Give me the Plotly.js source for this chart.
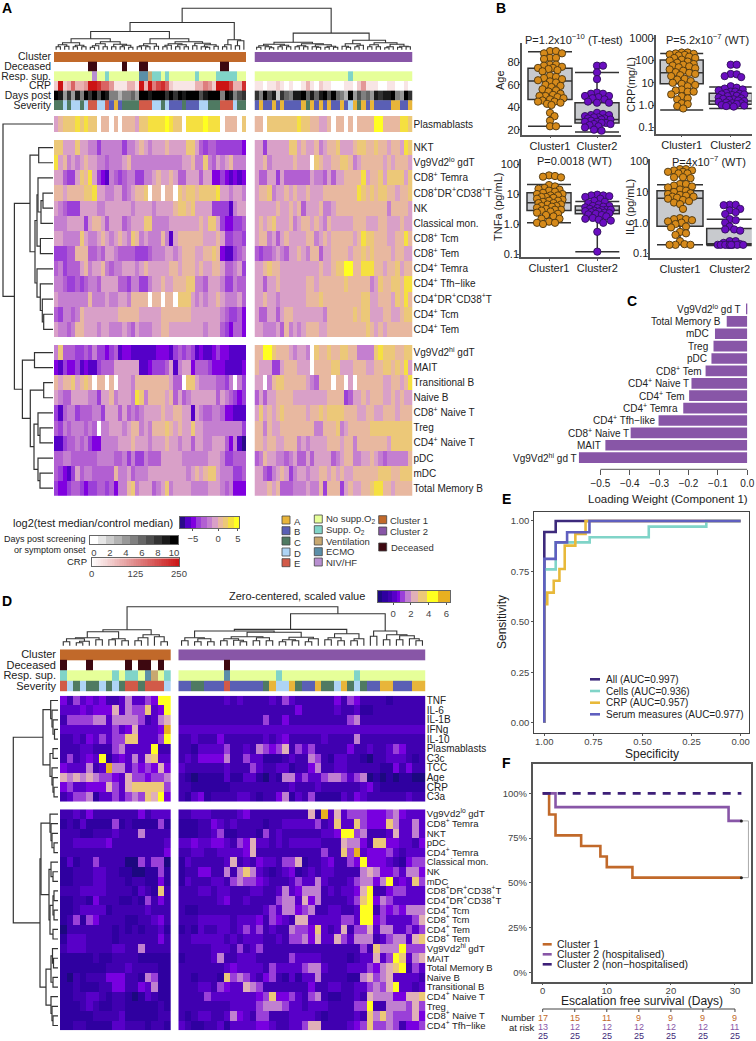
<!DOCTYPE html>
<html><head><meta charset="utf-8">
<script src="https://cdn.plot.ly/plotly-3.0.1.min.js"></script>
<style>html,body{margin:0;padding:0;background:#fff}#g{width:756px;height:1041px}</style>
</head><body><div id="g"></div>
<script>
/* ---------- DATA: panel A (levels 0-9,a of the colour key; . = missing) ---------- */
const aRowsTop = ["Plasmablasts"];
const aRowsMid = ["NKT","Vg9Vd2<sup>lo</sup> gdT","CD8<sup>+</sup> Temra","CD8<sup>+</sup>DR<sup>+</sup>CD38<sup>+</sup>T","NK","Classical mon.","CD8<sup>+</sup> Tcm","CD8<sup>+</sup> Tem","CD4<sup>+</sup> Temra","CD4<sup>+</sup> Tfh−like","CD4<sup>+</sup>DR<sup>+</sup>CD38<sup>+</sup>T","CD4<sup>+</sup> Tcm","CD4<sup>+</sup> Tem"];
const aRowsLow = ["Vg9Vd2<sup>hi</sup> gdT","MAIT","Transitional B","Naive B","CD8<sup>+</sup> Naive T","Treg","CD4<sup>+</sup> Naive T","pDC","mDC","Total Memory B"];
const aPlasmaL = ["67888 98988 .77.7 .7776 88999 9a988 .9999 a999. 777.8 8"];
const aPlasmaR = ["77.88 88888 98877 667.7 7.7.7 777aa 77779 98"];
const aMidL = [
"88666 86655 35555 53556 76566 67666 68864 34433 33332",
"96756 56766 55455 56755 55555 55555 66755 85465 67555",
"66433 68796 32154 34553 35567 66764 46664 66223 21212",
"77677 77889 66556 64567 78.77 .77.8 78878 88896 65665",
"65433 36666 55666 66656 66656 66678 87866 66333 31566",
"55566 66367 76466 64566 68855 55666 66667 68863 22334",
"66555 58655 67656 76587 56555 75167 77777 66676 33443",
"33344 77744 54665 44443 33455 56656 77766 77872 11345",
"45344 46756 67545 56665 67666 66776 77767 66776 44563",
"55433 43455 46666 44355 33566 76677 78855 46665 33544",
"65555 55575 55655 66577 77.77 .77.8 88656 56676 55564",
"43554 57666 66666 77777 66666 77777 77666 66665 43342",
"65545 77666 56655 56546 55566 77666 66666 56664 32442"];
const aMidR = [
"66366 66688 67667 56778 66678 87787 76776 98",
"66756 66667 666.8 76677 88756 77777 67677 76",
"64466 36444 44465 54646 67777 96778 68888 68",
"67785 66767 66766 67777 77779 87878 87767 78",
"66666 76676 74666 75567 77777 77777 75777 76",
"67678 66675 67767 65766 66677 76667 76667 66",
"67756 46766 66775 67677 77767 98877 76677 97",
"43445 65466 76577 46677 77677 87877 77677 66",
"66787 76666 66666 76678 8aa77 99977 67786 77",
"66466 76666 66776 77777 78777 77568 77887 99",
"66766 56666 66777 87777 77777 88667 77687 97",
"64466 46776 66666 65777 77787 88666 77667 88",
"66555 64756 56777 66777 77777 78767 67777 77"];
const aLowL = [
"58444 33435 33234 12211 11112 22134 34312 11232 21111",
"21322 31211 34446 66666 11233 34615 66244 43222 11112",
"76778 6787. 77.7. 66657 77777 77644 .8865 55544 35.53",
"65446 66655 36675 66659 85777 76746 45666 66646 54323",
"31455 34445 53666 46454 56666 76677 66165 44554 22111",
"43545 55454 .5566 65677 56577 78767 66866 55555 55553",
"11344 54532 25555 66676 66566 67665 66466 55666 42510",
"44554 44444 55554 45353 35444 66666 55555 56665 33444",
"43213 64554 44447 55645 55666 66666 65676 78865 55334",
"32234 43233 44342 55785 66645 68566 66555 56665 45222"];
const aLowR = [
"77aa8 77765 665.8 77877 88775 55589 88877 88",
"76663 36777 666.7 77788 66677 76677 88787 96",
"66.57 88777 77654 777.7 7.6.7 77777 66776 79",
"46466 77776 66666 66777 73466 76777 66767 66",
"68676 78777 77677 87888 87776 67766 77767 77",
"77576 67777 77775 57778 56777 77888 88888 88",
"77677 66777 56566 66777 67757 77777 76888 88",
"45766 55456 44646 66645 67755 66765 45555 57",
"66435 67635 66566 77676 76677 77778 88778 88",
"66676 74445 55655 73777 36766 77899 77677 77"];
const aDeceasedL = "..... ...xx ..... .x... xx... ..... ..... ....x x....";
const aDeceasedR = "..... ..... ..... ..... ..... ..... ..... ..";
const aRespL = "nnnnn nnnnh nnsnn nnnnn eevss nsnnn nnnsn nnnss sssnn";
const aRespR = "nnnnn nnnnn nnnnn nnnnn nnsnn nnnnn nnnnn nn";
const aCrpL = "29236 33499 86641 11331 93957 86211 11133 54299 97338";
const aCrpR = "11011 21010 01310 21100 01102 41110 01100 10";
const aDaysL = "a9484 95a8a 7a955 35564 aa9aa a8a8a 9aaa7 9aaa5 a9578";
const aDaysR = "85a79 28659 9a696 9a7a6 53a47 56498 99a54 a8";
const aSevL = "CCDCD DCDEE DDEBA BCCCC EEEDD CDBBB CBBBD DCCCE EEDCC";
const aSevR = "BABBA BABBB BACAB ABABB ABDAC ABABB BBAAB BA";

/* ---------- DATA: panel D ---------- */
const dRowsTop = ["TNF","IL-6","IL-1B","IFNg","IL-10","Plasmablasts","C3c","TCC","Age","CRP","C3a"];
const dRowsLow = ["Vg9Vd2<sup>lo</sup> gdT","CD8<sup>+</sup> Temra","NKT","pDC","CD4<sup>+</sup> Temra","Classical mon.","NK","mDC","CD8<sup>+</sup>DR<sup>+</sup>CD38<sup>+</sup>T","CD4<sup>+</sup>DR<sup>+</sup>CD38<sup>+</sup>T","CD4<sup>+</sup> Tcm","CD8<sup>+</sup> Tcm","CD4<sup>+</sup> Tem","CD8<sup>+</sup> Tem","Vg9Vd2<sup>hi</sup> gdT","MAIT","Total Memory B","Naive B","Transitional B","CD4<sup>+</sup> Naive T","Treg","CD8<sup>+</sup> Naive T","CD4<sup>+</sup> Tfh−like"];
const dTopL = [
"42534 34223 63354 99","33343 44473 65583 49","25555 66366 66523 67","33333 33353 47333 4a","22324 35355 88333 59",
"22233 22256 33339 22","25234 39134 36378 33","43336 23a66 35454 74","76767 65543 75545 56","45334 44753 78888 85","23556 13353 56587 94"];
const dTopR = [
"22222 22323 22223 25322 22224 25422 22122 222",
"22222 22222 22222 22242 22223 22311 22222 222",
"22222 22222 22252 24222 22222 25622 22222 222",
"33333 33333 33333 33333 33333 33333 33333 333",
"22322 24222 22232 34222 22322 22622 22222 222",
"22133 33522 32654 57253 52222 24223 22354 222",
"23244 44622 53311 12322 65213 32210 22333 212",
"32222 22322 25322 33122 46223 32222 21142 422",
"21011 11311 33102 16635 33566 53560 10101 100",
"22111 11122 22222 22322 23222 22234 21111 111",
"21341 22223 32122 46132 51111 32432 22222 322"];
const dLowL = [
"22324 22222 22423 33","12131 11151 21111 51","22211 22232 22622 22","22333 33422 22222 23","22222 22222 22222 24",
"13122 52222 00525 50","11222 33221 10011 51","11222 33222 12211 41","22233 33222 21321 82","11221 42221 12152 42",
"11233 33122 22232 22","12515 42222 11223 42","02222 22212 12122 31","13332 22212 22222 42","23332 22233 22622 22",
"11111 21122 22111 11","11111 11222 32222 11","10212 22444 22165 11","11211 12244 22436 11","11223 32122 10132 11",
"11123 21122 11111 21","11111 22223 11111 22","11221 11133 22212 21"];
const dLowR = [
"22333 22223 42222 22222 71a37 35554 44564 333",
"11122 43232 22212 23333 35238 33854 44863 363",
"11122 35112 22152 32222 22334 99562 22373 363",
"33433 44325 47332 32333 33222 76642 88443 324",
"22332 23333 47222 22222 22522 85a34 44532 333",
"13222 22372 32433 25571 22342 25494 44321 455",
"12244 22626 86321 23412 32332 22267 64453 664",
"13222 33256 55432 22353 36322 23566 46934 385",
"22233 23322 23322 36346 66232 33479 22455 333",
"22222 23422 32222 56637 46222 23589 46533 333",
"21122 22222 22235 36645 62233 22399 25454 666",
"22233 33323 33425 43277 33333 55399 45333 357",
"12132 23323 53523 22655 48323 72557 36633 535",
"22333 33232 33322 32556 47337 53666 23566 378",
"22222 33325 23522 22222 22222 22252 86669 555",
"12222 36223 33222 22533 33222 21233 73598 367",
"22222 22343 33325 33335 66322 23335 46789 253",
"22122 21856 53245 21313 36222 21167 56733 332",
"22233 25433 76522 22222 42233 22335 65793 323",
"22225 33333 33458 44532 56211 22327 66644 778",
"22222 22233 33566 65332 33322 22559 22666 575",
"21233 22364 32552 22333 32122 22328 68655 574",
"32112 23133 33443 22335 77222 23458 55652 445"];
const dDeceasedL = "x...x ..... x.xx. x.";
const dDeceasedR = "..... ..x.. ..... ..... ..... ..... ..... ...";
const dRespL = "snnnn nnnsn ssnev ns";
const dRespR = "nnnnn nnenn nnnnn snnnn nnnnn nnsnn nnnnn nnn";
const dSevL = "EDCDC CDCDC EECEE ED";
const dSevR = "BBCCB BBEBB BBBCA DDACB BACCD ACDCB BAABB BAA";

/* ---------- DATA: dendrograms [height, left, right]; 1 = a leaf ---------- */
const treeAColsLeft = [27.3,[18.3,
  [11,[7,[5,[3,1,1],[3.5,1,1]],[4.5,[3,1,1],[3,1,1]]],[8,[6,[4,[2.5,1,1],1],[3,1,1]],[5.5,[3,1,1],[4.5,[3,1,1],[2.5,1,1]]]]],
  [11,[6,[4,[3,1,1],[3,1,1]],[3.5,1,1]],[8,[6,[4.5,[3,1,1],1],[5,[3,1,1],[3,1,1]]],[6.5,[4,1,1],[5,[3,1,[2.5,1,1]],[3.5,1,1]]]]]],
  [10,[5,[3,1,1],1],[9,[4,1,1],1]]];
const treeAColsRight = [16.7,
  [7.5,[5.5,[4,[2.5,1,1],[3,1,[2,1,1]]],[4.5,[3,1,1],[3,1,1]]],[6,[4,[3,1,1],[3,1,1]],[5,[3,1,[2.5,1,1]],[3.5,[2.5,1,1],[2.5,1,1]]]]],
  [9.5,[6,[3.5,1,[2.5,1,1]],[4.5,[3,1,1],1]],[7,[5,[3,1,1],[3,1,1]],[5.5,[3,[2,1,1],1],[3.5,[2.5,1,1],[3,1,1]]]]]];
const treeARootHeight = 41.5;
const treeARows = [50,1,[38.6,
  [23,[14.3,1,1],[18,[16,[15,1,[12,[10,1,1],1]],[12.6,1,1]],[16,1,[12.7,1,[10.7,1,[9.3,1,1]]]]]],
  [30.6,[18.5,1,1],[22.7,[9.3,1,1],[19,[15,1,[13,1,1]],[15,1,[13,1,1]]]]]]];
const treeDColsLeft = [16,[14,[8,[7,[4,1,1],[4.5,[3,1,1],1]],[6,1,1]],[7,[6,1,1],[5,1,1]]],[11,[8,[5,1,1],1],[9,1,[4,1,1]]]];
const treeDColsRight = [32,
  [16.3,[14.7,[8,[5,1,1],[7,[4,1,1],[4,1,1]]],[13.5,[9,[7,[5,1,1],[5.5,1,[4,1,1]]],[8,[5,1,1],[5,1,1]]],[8.5,[6,[4,1,1],[5,1,1]],[7,[4,1,1],1]]]],[12,[8,[6,1,1],[5,1,1]],[7,[5,1,1],1]]],
  [14.7,[9.5,1,1],[11,[6,1,1],[10,[6,1,1],[7,1,[5,1,1]]]]]];
const treeDRootHeight = 39;
const treeDRows = [44.7,
  [15,[7.3,1,[6,1,[5,1,[3.5,1,1]]]],[8,[5,1,1],[6,1,[5,1,[4,1,1]]]]],
  [18,[17,[8,1,[7,1,[6,1,[4,1,1]]]],[9,[7,1,[5,1,1]],[8,[5,[4,1,1],[4,1,1]],[5,1,1]]]],[12,[7,[5.5,1,[4.5,1,1]],[5,1,1]],[7,1,[6,1,[5,1,1]]]]]];

/* ---------- DATA: panel B ---------- */
const ageC1 = [90,90,88,88,84,84,83,78,78,77,76,75,75,74,73,72,68,67,66,65,64,63,62,60,59,58,56,55,54,52,51,50,50,49,48,47,46,45,45,44,43,42,35,32,28,23,23];
const ageC2 = [77,77,71,65,53,52,52,50,50,49,48,47,45,44,44,35,34,33,33,32,31,31,30,30,29,29,28,27,27,26,26,25,25,24,23,22,20,19];
const crpC1 = [230,230,210,200,190,180,170,150,130,130,110,100,90,80,70,65,60,55,50,45,40,35,30,28,25,22,20,15,14,12,10,9,8,7,5,4.5,4,4,3,2.5,2,1.8,1.2,1.1,0.9,0.7];
const crpC2 = [65,65,25,24,20,18,7,6,5.5,5,4.5,4,4,3.5,3.2,3,3,2.8,2.6,2.5,2.2,2,1.9,1.8,1.7,1.6,1.5,1.4,1.3,1.2,1.2,1.1,1,1,0.95,0.9,0.85];
const tnfC1 = [42,40,38,36,20,18,16,15,14,13,12,11,10,10,9,9,8,8,7.5,7,6.5,6,6,5.5,5,5,4.5,4.5,4,4,3.8,3.5,3.2,3,3,2.8,2.6,2.4,2.2,2,1.8,1.5,1.5,1.2,1.1,1.1,1];
const tnfC2 = [9.5,9,9,8.5,8,7,6,5.5,5,4.5,4,4,3.8,3.6,3.4,3.2,3,3,2.9,2.8,2.7,2.6,2.5,2.4,2.3,2.2,2.1,2,1.8,1.6,1.5,1.4,1.3,1.1,0.55,0.12];
const il6C1 = [55,55,50,50,45,45,40,40,30,30,28,18,18,16,15,14,12,11,10,9,8.5,8,7.5,7,7,6.5,6,5.5,5,4.5,4,2.8,1.4,1.3,1.3,1.2,1.1,1,0.9,0.75,0.7,0.5,0.45,0.4,0.25,0.2,0.19,0.19,0.19];
const il6C2 = [3.8,3.8,3.7,2.8,2.5,2.2,1.9,1.3,1.2,1,0.75,0.6,0.6,0.55,0.25,0.25,0.22,0.2,0.19,0.19,0.19,0.19,0.19,0.19,0.19,0.19,0.19];
const boxCategories = ["Cluster1","Cluster2"];
const ageBox = {lo:[23,18],q1:[46.9,26],med:[63.3,29],q3:[74.6,44],hi:[89.5,71]};
const crpBox = {lo:[0.6,0.7],q1:[9,1.07],med:[28,1.5],q3:[105,3.4],hi:[206,6.4]};
const tnfBox = {lo:[1.1,0.12],q1:[2.85,2.2],med:[5.1,2.9],q3:[11,4],hi:[21,5.6]};
const il6Box = {lo:[0.19,0.18],q1:[0.77,0.19],med:[6.2,0.2],q3:[11,0.64],hi:[17,1.3]};

/* ---------- DATA: panel C ---------- */
const loadNames = ["Vg9Vd2<sup>lo</sup> gd T","Total Memory B","mDC","Treg","pDC","CD8<sup>+</sup> Tem","CD4<sup>+</sup> Naive T","CD4<sup>+</sup> Tem","CD4<sup>+</sup> Temra","CD4<sup>+</sup> Tfh−like","CD8<sup>+</sup> Naive T","MAIT","Vg9Vd2<sup>hi</sup> gd T"];
const loadVals = [-0.003,-0.07,-0.11,-0.115,-0.122,-0.142,-0.19,-0.198,-0.218,-0.302,-0.397,-0.483,-0.573];
const labelGaps = [4.7,4.7,5,4.3,3.7,2.3,1,3.3,4.7,3,0.7,3.7,0.7];

/* ---------- DATA: panel E ---------- */
const rocAllX = [1,1,0.942,0.942,0];       const rocAllY = [0,0.945,0.945,1,1];
const rocCellsX = [1,1,0.942,0.942,0.769,0.769,0.468,0.468,0.175,0.175,0];
const rocCellsY = [0,0.76,0.76,0.894,0.894,0.919,0.919,0.972,0.972,1,1];
const rocCrpX = [1,1,0.985,0.985,0.952,0.952,0.923,0.923,0.896,0.896,0.842,0.842,0.79,0.79,0];
const rocCrpY = [0,0.588,0.588,0.645,0.645,0.704,0.704,0.762,0.762,0.878,0.878,0.936,0.936,1,1];
const rocSerumX = [1,1,0.942,0.942,0.884,0.884,0.77,0.77,0];
const rocSerumY = [0,0.812,0.812,0.894,0.894,0.944,0.944,1,1];
const rocLabels = ["All (AUC=0.997)","Cells (AUC=0.936)","CRP (AUC=0.957)","Serum measures (AUC=0.977)"];

/* ---------- DATA: panel F ---------- */
const kmC1X = [0,1,2,6,9,10,14,31];        const kmC1Y = [100,88.2,76.5,70.6,64.7,58.8,52.9,52.9];
const kmC2X = [0,2,29,31];                 const kmC2Y = [100,92.3,84.6,84.6];
const kmC3X = [0,31];                      const kmC3Y = [100,100];
const kmLabels = ["Cluster 1","Cluster 2 (hospitalised)","Cluster 2 (non−hospitalised)"];
const riskDays = [0,5,10,15,20,25,30];
const riskC1 = [17,15,11,9,9,9,9];
const riskC2 = [13,12,12,12,12,12,11];
const riskC3 = [25,25,25,25,25,25,25];

/* ---------- DATA: legends ---------- */
const severityNames = ["A","B","C","D","E"];
const respNames = ["No supp.O<sub>2</sub>","Supp. O<sub>2</sub>","Ventilation","ECMO","NIV/HF"];
const keyDays = [0,1,2,3,4,5,6,7,8,9,10];
const keyCrp = Array.from({length:51},(_,i)=>i*5);
const keyLog = [0,1,2,3,4,5,6,7,8,9,10];
const keyScaledEdges = [-1.7,-1.2,-0.6,-0.1,0.4,0.8,1.3,2.0,2.8,3.8,5,6.4];

/* ---------- styles ---------- */
const W=756,H=1041;
const COL={c1:"#c1692a",c2:"#8856a7",dec:"#3d0810",txt:"#222",axis:"#555",dark:"#3d2a7c",teal:"#80d4c8",gold:"#e8b93a",blue:"#5f5fbf"};
const sevColors=["#e8b53a","#5a5fb5","#4f7a62","#aed4f5","#d25a48"];
const respColors=["#e6ff99","#80d4c8","#c8a870","#5b8fa8","#b88fd0"];
const pal=a=>a.map((c,i)=>[i/(a.length-1),c]);
const csA=pal(["#2a0a8a","#5500c8","#8000e0","#9b3fd8","#b25fd2","#c47fd0","#d9a0c8","#e8b8a0","#ecc878","#f5e040","#ffff20"]);
const csD=pal(["#1c0880","#2f00a0","#4000b0","#5800c8","#7800e0","#9a40d8","#c080d0","#e0b0b8","#ecc878","#ffff20","#e8b020"]);
const csGrey=[[0,"#ffffff"],[1,"#000000"]];
const csRed=[[0,"#ffffff"],[0.5,"#e08a8a"],[1,"#cc1414"]];
const FONT="'Liberation Sans',Arial,sans-serif";

/* ---------- helpers ---------- */
const traces=[],annotations=[],shapes=[],layout={};
let axN=0;
function axes(x0,x1,y0,y1,xo,yo){
  axN++;const s=axN===1?"":axN;
  layout["xaxis"+s]=Object.assign({domain:[x0/W,x1/W],anchor:"y"+s,showgrid:false,zeroline:false,fixedrange:true,visible:false},xo||{});
  layout["yaxis"+s]=Object.assign({domain:[1-y1/H,1-y0/H],anchor:"x"+s,showgrid:false,zeroline:false,fixedrange:true,visible:false},yo||{});
  return {xaxis:"x"+s,yaxis:"y"+s};
}
const parse=s=>s.replace(/ /g,"").split("");
const levels=s=>parse(s).map(c=>c==="."?null:parseInt(c,36));
function fit(a,n){const b=a.slice(0,n);while(b.length<n)b.push(b[b.length-1]);return b;}
function T(text,x,y,o){o=o||{};annotations.push({text,x:x/W,y:1-y/H,xref:"paper",yref:"paper",showarrow:false,
  xanchor:o.anchor||"left",yanchor:"middle",textangle:o.angle||0,borderpad:0,
  font:{family:FONT,size:o.size||10,color:o.color||COL.txt,weight:o.bold?700:400}});}
function heat(rows,n,x0,x1,y0,y1,cs,labels,labelSide,fs){
  const yo={range:[rows.length-0.5,-0.5]};
  if(labels){Object.assign(yo,{visible:true,side:labelSide,tickmode:"array",tickvals:labels.map((_,i)=>i),ticktext:labels,ticks:"",showline:false,
     tickfont:{family:FONT,size:fs||10,color:COL.txt}});}
  const a=axes(x0,x1,y0,y1,{range:[-0.5,n-0.5]},yo);
  traces.push(Object.assign({type:"heatmap",z:rows.map(r=>fit(levels(r),n)),colorscale:cs,zmin:0,zmax:10,showscale:false,hoverinfo:"skip",xgap:0,ygap:0},a));
}
function tracks(defs,n,x0,x1,y0,y1,labels,standoff,fs){
  const yo={range:[defs.length-0.5,-0.5]};
  if(labels){Object.assign(yo,{visible:true,side:"left",tickmode:"array",tickvals:labels.map((_,i)=>i),ticktext:labels,ticks:"",showline:false,ticklabelstandoff:standoff||0,tickfont:{family:FONT,size:fs||11,color:COL.txt}});}
  const a=axes(x0,x1,y0,y1,{range:[-0.5,n-0.5]},yo);
  defs.forEach((d,i)=>{
    traces.push(Object.assign({type:"heatmap",z:[fit(d.z,n)],y:[i-0.5,i+0.5],colorscale:d.cs,zmin:d.min,zmax:d.max,showscale:false,hoverinfo:"skip"},a));
  });
}
const cat=(s,keys)=>parse(s).map(c=>keys.indexOf(c));
const solid=(c)=>[[0,c],[1,c]];
const decZ=s=>parse(s).map(c=>c==="x"?1:null);
const sev=s=>({z:cat(s,"ABCDE"),cs:pal(sevColors),min:0,max:4});
const resp=s=>({z:cat(s,"nsveh"),cs:pal(respColors),min:0,max:4});
const deceased=s=>({z:decZ(s),cs:solid(COL.dec),min:0,max:1});
const clusterTrack=(c,n)=>({z:Array(n).fill(1),cs:solid(c),min:0,max:1});

const page=axes(0,W,0,H,{range:[0,W]},{range:[H,0]});
function dendro(tree,pos,horizontal,base,color,width){
  let i=0;const xs=[],ys=[];
  const put=(p,h)=>{if(horizontal){xs.push(p);ys.push(base-h);}else{xs.push(base-h);ys.push(p);}};
  function walk(n){
    if(n===1)return {p:pos[i++],h:0};
    const a=walk(n[1]),b=walk(n[2]);
    put(a.p,a.h);put(a.p,n[0]);put(b.p,n[0]);put(b.p,b.h);xs.push(null);ys.push(null);
    return {p:(a.p+b.p)/2,h:n[0]};
  }
  walk(tree);
  traces.push(Object.assign({type:"scatter",mode:"lines",x:xs,y:ys,line:{color:color||"#333",width:width||1},hoverinfo:"skip",showlegend:false},page));
}
const centers=(a,b,n)=>Array.from({length:n},(_,i)=>a+(b-a)*(i+0.5)/n);

/* ---------- Panel A ---------- */
const AL=[54,246],AR=[254.5,412.5],nAL=45,nAR=37;
tracks([clusterTrack(COL.c1,nAL),deceased(aDeceasedL),resp(aRespL),
  {z:levels(aCrpL),cs:csRed,min:0,max:9},{z:levels(aDaysL),cs:csGrey,min:0,max:10},sev(aSevL)],
  nAL,AL[0],AL[1],52,110,["Cluster","Deceased","Resp. sup.","CRP","Days post","Severity"],2,10.4);
tracks([clusterTrack(COL.c2,nAR),deceased(aDeceasedR),resp(aRespR),
  {z:levels(aCrpR),cs:csRed,min:0,max:9},{z:levels(aDaysR),cs:csGrey,min:0,max:10},sev(aSevR)],
  nAR,AR[0],AR[1],52,110);
heat(aPlasmaL,nAL,AL[0],AL[1],116,132,csA);
heat(aPlasmaR,nAR,AR[0],AR[1],116,132,csA,aRowsTop,"right");
heat(aMidL,nAL,AL[0],AL[1],140,337,csA);
heat(aMidR,nAR,AR[0],AR[1],140,337,csA,aRowsMid,"right");
heat(aLowL,nAL,AL[0],AL[1],345,495.7,csA);
heat(aLowR,nAR,AR[0],AR[1],345,495.7,csA,aRowsLow,"right");
{ // column tree
  const leaves=centers(AL[0],AL[1],nAL).concat(centers(AR[0],AR[1],nAR));
  dendro([treeARootHeight,treeAColsLeft,treeAColsRight],leaves,true,49.8,"#333",1.1);
  const rows=[124].concat(centers(140,337,13),centers(345,495.7,10));
  dendro(treeARows,rows,false,53,"#333",1.2);
}
T("log2(test median/control median)",93,522.7,{anchor:"center",size:11});
const keyAxis=(extra)=>Object.assign({visible:true,ticks:"",tickfont:{family:FONT,size:9.5,color:"#444"},showline:true,linecolor:"#666",mirror:true,tickmode:"array"},extra);
const keyY=()=>({visible:true,showticklabels:false,ticks:"",showline:true,linecolor:"#666",mirror:true,range:[-0.5,0.5]});
const kA=axes(180,239,517,528,keyAxis({range:[-0.5,10.5],tickvals:[1.9,6.6,10.3],ticktext:["−5","0","5"],ticks:"outside",ticklen:2,tickcolor:COL.axis}),keyY());
traces.push(Object.assign({type:"heatmap",z:[keyLog],x:keyLog,colorscale:csA,zmin:0,zmax:10,showscale:false,hoverinfo:"skip"},kA));
T("Days post screening",87,539,{anchor:"right",size:9});
T("or symptom onset",87,550,{anchor:"right",size:9});
const kD=axes(90,178,536,544.3,keyAxis({range:[-0.5,10.5],tickvals:[0,2,4,6,8,10],ticklabelstandoff:-1}),keyY());
traces.push(Object.assign({type:"heatmap",z:[keyDays],x:keyDays,colorscale:csGrey,zmin:0,zmax:10,showscale:false,hoverinfo:"skip"},kD));
T("CRP",88,561.7,{anchor:"right",size:9.5});
const kC=axes(91.7,179,558.3,566,keyAxis({range:[0,250],tickvals:[0,125,250],ticklabelstandoff:-1}),keyY());
traces.push(Object.assign({type:"heatmap",z:[keyCrp],x:keyCrp,colorscale:csRed,zmin:0,zmax:250,showscale:false,hoverinfo:"skip"},kC));
function swatch(x,y,c){shapes.push({type:"rect",xref:"paper",yref:"paper",x0:x/W,x1:(x+8)/W,y0:1-(y+4)/H,y1:1-(y-4)/H,fillcolor:c,line:{color:"#444",width:0.8}});}
[520,530.7,541,552,562.7].forEach((y,i)=>{swatch(282,y,sevColors[i]);T(severityNames[i],293.3,y+1,{size:9.5,color:"#333"});});
[519,529.7,541,551.7,562].forEach((y,i)=>{swatch(314.3,y,respColors[i]);T(respNames[i],324.7,y,{size:9.5,color:"#333"});});
swatch(378.7,519.7,COL.c1);T("Cluster 1",389,520,{size:9.5,color:"#333"});
swatch(378.7,531,COL.c2);T("Cluster 2",389,531,{size:9.5,color:"#333"});
swatch(378.7,547,COL.dec);T("Deceased",390,547.5,{size:9.5,color:"#333"});

/* ---------- Panel B ---------- */
function swarmX(vals,toPx,d,maxW){
  const placed=[];
  return vals.map(v=>{
    const py=toPx(v);let best=0,bestD=-1;
    for(let k=0;k*1.5<=maxW*2;k++){
      const c=(k%2?1:-1)*Math.ceil(k/2)*1.5;
      const m=placed.reduce((q,p)=>Math.min(q,Math.hypot(p[0]-c,p[1]-py)),1e9);
      if(m>=d){best=c;bestD=m;break;}
      if(m>bestD){bestD=m;best=c;}
    }
    placed.push([best,py]);return best;
  });
}
function boxPanel(o){
  const u=o.c2-o.c1;
  const xr=[(o.x0-o.c1)/u,(o.x1-o.c1)/u];
  const ya={visible:true,range:o.yr,showline:true,linecolor:COL.axis,linewidth:1.5,ticks:"outside",ticklen:2,tickcolor:COL.axis,ticklabelstandoff:-4,tickmode:"array",tickvals:o.tv,ticktext:o.tt,tickfont:{family:FONT,size:11,color:COL.txt},type:o.log?"log":"linear"};
  const a=axes(o.x0,o.x1,o.y0,o.y1,{visible:true,range:xr,showline:true,linecolor:COL.axis,linewidth:1.5,ticks:"outside",ticklen:2,tickcolor:COL.axis,ticklabelstandoff:-2,tickmode:"array",tickvals:[0,1],ticktext:boxCategories,tickfont:{family:FONT,size:11,color:COL.txt}},ya);
  const b=o.box;
  traces.push(Object.assign({type:"box",x:[0,1],q1:b.q1,median:b.med,q3:b.q3,lowerfence:b.lo,upperfence:b.hi,boxpoints:false,whiskerwidth:1,width:o.bw/u,fillcolor:"#c8cace",line:{color:"#333",width:1.5},hoverinfo:"skip",showlegend:false},a));
  const toPx=v=>{const t=o.log?Math.log10(v):v;return o.y0+(o.yr[1]-t)/(o.yr[1]-o.yr[0])*(o.y1-o.y0);};
  const mk=(vals,i,c,l)=>{
    const off=swarmX(vals,toPx,5.2,13);
    traces.push(Object.assign({type:"scatter",mode:"markers",x:off.map(d=>i+d/u),y:vals,marker:{size:7.3,color:c,line:{color:l,width:0.9}},hoverinfo:"skip",showlegend:false},a));
  };
  mk(o.a,0,"#d68a1a","#4a3410");mk(o.b,1,"#6a0dc0","#30105a");
  T(o.title,o.tx,o.ty,{anchor:"center",size:11});
  T(o.yt,o.ytx,o.yty,{anchor:"center",size:11,angle:-90});
}
boxPanel({x0:521.7,x1:621,y0:43,y1:134.7,c1:550,c2:597,bw:44,yr:[15.5,97.2],tv:[20,40,60,80],tt:["20","40","60","80"],box:ageBox,a:ageC1,b:ageC2,title:"P=1.2x10<sup>−10</sup> (T-test)",tx:574,ty:39,yt:"Age",ytx:500,yty:80});
boxPanel({x0:655.7,x1:751.7,y0:35,y1:133.7,c1:681.7,c2:730.7,bw:43,log:true,yr:[-1.29,3.15],tv:[0.1,1,10,100,1000],tt:["0.1","1.0","10","100","1000"],box:crpBox,a:crpC1,b:crpC2,title:"P=5.2x10<sup>−7</sup> (WT)",tx:707.7,ty:39,yt:"CRP(mg/L)",ytx:631,yty:85});
boxPanel({x0:521,x1:620,y0:159,y1:257.3,c1:549,c2:597.3,bw:44,log:true,yr:[-1.11,2.17],tv:[0.1,1,10,100],tt:["0.1","1.0","10","100"],box:tnfBox,a:tnfC1,b:tnfC2,title:"P=0.0018 (WT)",tx:574,ty:161,yt:"TNFa (pg/mL)",ytx:498,yty:207});
boxPanel({x0:650.3,x1:751.7,y0:159,y1:257.7,c1:680,c2:729.7,bw:46,log:true,yr:[-1.14,2.07],tv:[0.1,1,10,100],tt:["0.1","1.0","10","100"],box:il6Box,a:il6C1,b:il6C2,title:"P=4x10<sup>−7</sup> (WT)",tx:709,ty:161,yt:"IL6 (pg/mL)",ytx:630,yty:207});

/* ---------- Panel C ---------- */
const cA=axes(576,747.3,297.3,469.3,{visible:true,range:[-0.583,0],tickmode:"array",tickvals:[-0.5,-0.4,-0.3,-0.2,-0.1,0],ticktext:["−0.5","−0.4","−0.3","−0.2","−0.1","0.0"],ticks:"outside",ticklen:5,tickcolor:COL.axis,showline:false,tickfont:{family:FONT,size:10,color:COL.txt}},{range:[12.94,-0.94]});
traces.push(Object.assign({type:"bar",orientation:"h",x:loadVals,y:loadNames.map((_,i)=>i),width:0.86,marker:{color:COL.c2},hoverinfo:"skip",showlegend:false},cA));
loadNames.forEach((n,i)=>annotations.push({text:n,x:loadVals[i],y:i,xref:cA.xaxis,yref:cA.yaxis,xanchor:"right",yanchor:"middle",xshift:-labelGaps[i],showarrow:false,borderpad:0,font:{family:FONT,size:10,color:COL.txt}}));
shapes.push({type:"line",xref:cA.xaxis,yref:"paper",x0:-0.5,x1:0,y0:1-469.3/H,y1:1-469.3/H,line:{color:COL.axis,width:1}});
T("Loading Weight (Component 1)",668,499,{anchor:"center",size:11.5});

/* ---------- Panel E ---------- */
const eA=axes(534.3,749.3,511.7,733.3,
  {visible:true,range:[1.051,-0.044],tickmode:"array",tickvals:[1,0.75,0.5,0.25,0],ticktext:["1.00","0.75","0.50","0.25","0.00"],ticks:"outside",ticklen:2,ticklabelstandoff:-3,tickcolor:COL.axis,showline:true,mirror:true,linecolor:"#444",linewidth:1.2,tickfont:{family:FONT,size:9.5,color:"#444"}},
  {visible:true,range:[-0.0526,1.046],tickmode:"array",tickvals:[0,0.25,0.5,0.75,1],ticktext:["0.00","0.25","0.50","0.75","1.00"],ticks:"outside",ticklen:2,tickcolor:COL.axis,showline:true,mirror:true,linecolor:"#444",linewidth:1.2,tickfont:{family:FONT,size:9.5,color:"#444"}});
const rocColors=[COL.dark,COL.teal,COL.gold,COL.blue];
[[rocAllX,rocAllY],[rocCellsX,rocCellsY],[rocCrpX,rocCrpY],[rocSerumX,rocSerumY]].forEach((s,i)=>{
  traces.push(Object.assign({type:"scatter",mode:"lines",x:s[0],y:s[1],name:rocLabels[i],line:{color:rocColors[i],width:2.6},hoverinfo:"skip",showlegend:false},eA));
});
[679.3,691,702.7,714.3].forEach((y,i)=>{
  shapes.push({type:"line",xref:"paper",yref:"paper",x0:590/W,x1:600/W,y0:1-y/H,y1:1-y/H,line:{color:rocColors[i],width:2.6}});
  T(rocLabels[i],605,y,{size:10,color:"#222"});
});
T("Specificity",652,754,{anchor:"center",size:12});
T("Sensitivity",502,622,{anchor:"center",size:12,angle:-90});

/* ---------- Panel F ---------- */
const fA=axes(532.7,751,764,981.7,
  {visible:true,range:[-1.56,32.5],tickmode:"array",tickvals:[0,10,20,30],ticks:"outside",ticklen:2,ticklabelstandoff:-3,tickcolor:COL.axis,showline:true,mirror:true,linecolor:"#555",linewidth:1.5,tickfont:{family:FONT,size:9.5,color:"#444"}},
  {visible:true,range:[-5.25,116.4],tickmode:"array",tickvals:[0,25,50,75,100],ticktext:["0%","25%","50%","75%","100%"],ticks:"outside",ticklen:2,tickcolor:COL.axis,showline:true,mirror:true,linecolor:"#555",linewidth:1.5,tickfont:{family:FONT,size:9.5,color:"#444"}});
const kmColors=[COL.c1,COL.c2,"#3d1f78"];
traces.push(Object.assign({type:"scatter",mode:"lines",x:[31,32.1,32.1,31],y:[kmC2Y[3],kmC2Y[3],kmC1Y[7],kmC1Y[7]],line:{color:"#aaa",width:1},hoverinfo:"skip",showlegend:false},fA));
[[kmC1X,kmC1Y,"solid"],[kmC2X,kmC2Y,"solid"],[kmC3X,kmC3Y,"8px,7px"]].forEach((s,i)=>{
  traces.push(Object.assign({type:"scatter",mode:"lines",x:s[0],y:s[1],name:kmLabels[i],line:{color:kmColors[i],width:2.6,shape:"hv",dash:s[2]},hoverinfo:"skip",showlegend:false},fA));
});
traces.push(Object.assign({type:"scatter",mode:"markers",x:[31,31],y:[kmC1Y[7],kmC2Y[3]],marker:{size:3,color:"#222"},hoverinfo:"skip",showlegend:false},fA));
[944.3,954.3,964.3].forEach((y,i)=>{
  shapes.push({type:"line",xref:"paper",yref:"paper",x0:542.7/W,x1:551.7/W,y0:1-y/H,y1:1-y/H,line:{color:kmColors[i],width:2.6}});
  T(kmLabels[i],555.7,y,{size:10.5,color:"#222"});
});
T("Escalation free survival (Days)",641.7,1000.5,{anchor:"center",size:12});
shapes.push({type:"line",xref:fA.xaxis,yref:"paper",x0:0,x1:30,y0:1-1009/H,y1:1-1009/H,line:{color:"#444",width:1}});
riskDays.forEach((d,i)=>{
  shapes.push({type:"line",xref:fA.xaxis,yref:"paper",x0:d,x1:d,y0:1-1009/H,y1:1-1012/H,line:{color:"#444",width:1}});
  [[riskC1,1017.7,COL.c1],[riskC2,1027,COL.c2],[riskC3,1035.6,"#3d1f78"]].forEach(r=>{
    annotations.push({text:String(r[0][i]),x:d,y:1-r[1]/H,xref:fA.xaxis,yref:"paper",xanchor:"center",yanchor:"middle",showarrow:false,borderpad:0,font:{family:FONT,size:9,color:r[2]}});
  });
});
T("Number",536,1017.7,{anchor:"right",size:9.5});
T("at risk",536,1027,{anchor:"right",size:9.5});

/* ---------- Panel D ---------- */
const DL=[60,170.7],DR=[178.3,425.7],nDL=17,nDR=38;
tracks([clusterTrack(COL.c1,nDL),deceased(dDeceasedL),resp(dRespL),sev(dSevL)],nDL,DL[0],DL[1],649.3,691.3,["Cluster","Deceased","Resp. sup.","Severity"],3);
tracks([clusterTrack(COL.c2,nDR),deceased(dDeceasedR),resp(dRespR),sev(dSevR)],nDR,DR[0],DR[1],649.3,691.3);
heat(dTopL,nDL,DL[0],DL[1],695.7,801.7,csD);
heat(dTopR,nDR,DR[0],DR[1],695.7,801.7,csD,dRowsTop,"right",10);
heat(dLowL,nDL,DL[0],DL[1],809.3,1030.3,csD);
heat(dLowR,nDR,DR[0],DR[1],809.3,1030.3,csD,dRowsLow,"right",9.5);
{
  const leaves=centers(DL[0],DL[1],nDL).concat(centers(DR[0],DR[1],nDR));
  dendro([treeDRootHeight,treeDColsLeft,treeDColsRight],leaves,true,645.7,"#333",1.1);
  const rows=centers(695.7,801.7,11).concat(centers(809.3,1030.3,23));
  dendro(treeDRows,rows,false,58,"#333",1.2);
}
T("Zero-centered, scaled value",365.7,596,{anchor:"right",size:11});
const kS=axes(378,450,591,602.3,keyAxis({range:[-1.7,6.4],tickvals:[0,2,4,6],ticks:"outside",ticklen:2,tickcolor:COL.axis}),keyY());
traces.push(Object.assign({type:"heatmap",z:[keyLog],x:keyScaledEdges,colorscale:csD,zmin:0,zmax:10,showscale:false,hoverinfo:"skip"},kS));

/* ---------- panel letters ---------- */
[["A",1,8.5],["B",495,8.5],["C",626,300.7],["D",1,600.7],["E",500.7,499],["F",500.7,762.7]].forEach(l=>T(l[0],l[1],l[2],{size:14,bold:true,color:"#000"}));

Object.assign(layout,{width:W,height:H,margin:{l:0,r:0,t:0,b:0},paper_bgcolor:"#fff",plot_bgcolor:"rgba(0,0,0,0)",showlegend:false,font:{family:FONT},annotations,shapes,hovermode:false});
Plotly.newPlot("g",traces,layout,{displayModeBar:false,responsive:false});
</script></body></html>
